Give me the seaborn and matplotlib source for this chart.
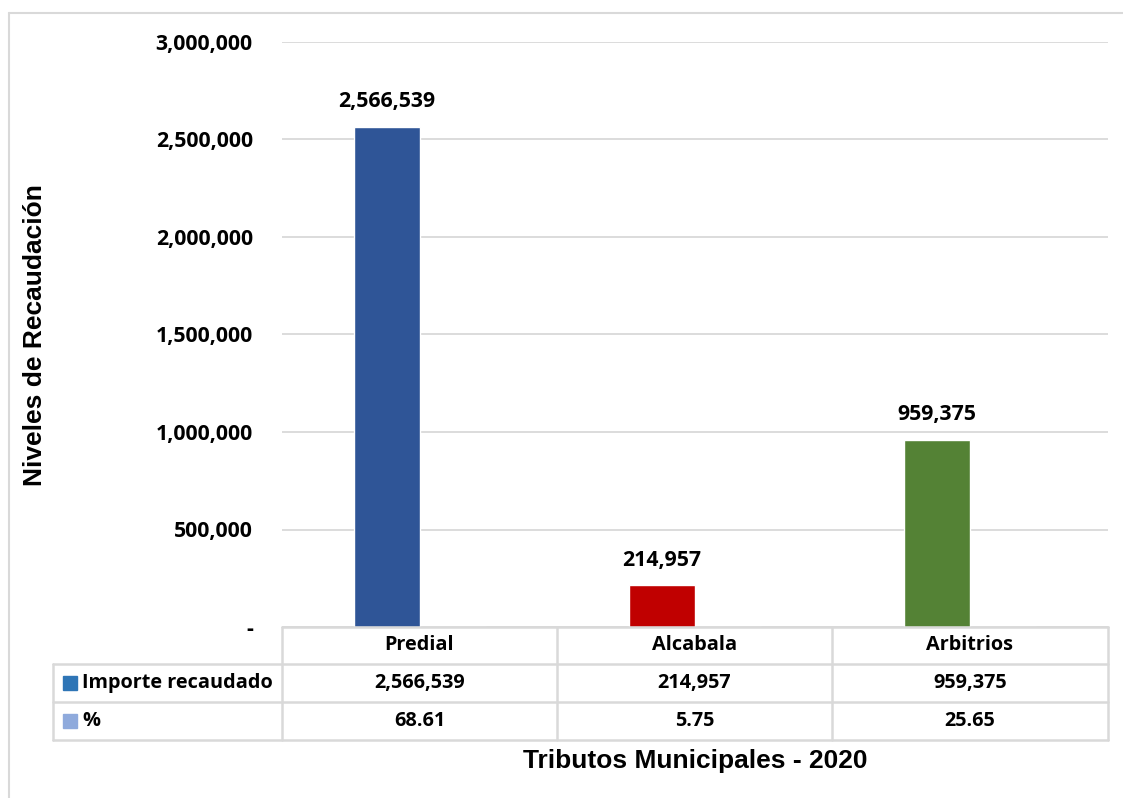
import matplotlib
matplotlib.use("Agg")
import matplotlib.pyplot as plt
import seaborn as sns
import pandas as pd
from matplotlib.patches import Rectangle

categorias = ["Predial", "Alcabala", "Arbitrios"]
importe = [2566539, 214957, 959375]
porcentaje = [68.61, 5.75, 25.65]
colores = ["#2F5597", "#C00000", "#548235"]
filas = ["Importe recaudado", "%"]
colores_leyenda = ["#2E75B6", "#8FAADC"]
yticks = [0, 500000, 1000000, 1500000, 2000000, 2500000, 3000000]

# formato largo: la serie "%" se dibuja al lado (casi invisible, como en Excel)
df = pd.DataFrame({
    "Tributo": categorias * 2,
    "Serie": [filas[0]] * 3 + [filas[1]] * 3,
    "Valor": importe + porcentaje,
})

sns.set_style("white")
plt.rcParams["text.color"] = "black"
plt.rcParams["ytick.color"] = "black"
num_font = ["Open Sans", "DejaVu Sans"]
title_font = ["Liberation Sans", "DejaVu Sans"]

W, H = 1123, 798
fig = plt.figure(figsize=(W / 100, H / 100), dpi=100)

x0, x1, y_top, y_zero = 282, 1108, 42, 627
ax = fig.add_axes([x0 / W, 1 - y_zero / H, (x1 - x0) / W, (y_zero - y_top) / H])

sns.barplot(data=df, x="Tributo", y="Valor", hue="Serie", palette=colores_leyenda,
            width=0.48, legend=False, ax=ax, saturation=1)
# colores por punto en la serie principal
for patch, c in zip(ax.containers[0], colores):
    patch.set_facecolor(c)

ax.set_ylim(0, 3000000)
ax.set_xlim(-0.5, 2.5)
ax.set_yticks(yticks)
ax.set_yticklabels(["-" if v == 0 else f"{v:,}" for v in yticks],
                   fontfamily=num_font, fontweight="bold", fontsize=15.3,
                   color="black")
ax.tick_params(axis="y", length=0, pad=21)
ax.set_xticks([])
ax.set_xlabel("")
ax.set_ylabel("")
ax.yaxis.grid(True, color="#D9D9D9", linewidth=1.3)
ax.set_axisbelow(True)
for s in ax.spines.values():
    s.set_visible(False)

for patch, v in zip(ax.containers[0], importe):
    cx = patch.get_x() + patch.get_width() / 2
    ax.annotate(f"{v:,}", (cx, v), xytext=(0, 18), textcoords="offset points",
                ha="center", va="center", fontfamily=num_font,
                fontweight="bold", fontsize=15.3, color="black")

# tabla de datos
def fx(px):
    return px / W

def fy(py):
    return 1 - py / H

grid_c = "#D9D9D9"
lw = 1.8
col_edges = [282, 557, 832, 1108]
row_edges = [627, 664, 702, 740]
left_edge = 53

def hline(xa, xb, y):
    fig.add_artist(plt.Line2D([fx(xa), fx(xb)], [fy(y), fy(y)], color=grid_c, lw=lw))

def vline(x, ya, yb):
    fig.add_artist(plt.Line2D([fx(x), fx(x)], [fy(ya), fy(yb)], color=grid_c, lw=lw))

hline(col_edges[0], col_edges[-1], row_edges[0])
for y in row_edges[1:]:
    hline(left_edge, col_edges[-1], y)
vline(col_edges[0], row_edges[0], row_edges[-1])
for x in col_edges[1:]:
    vline(x, row_edges[0], row_edges[-1])
vline(left_edge, row_edges[1], row_edges[-1])

txt_kw = dict(fontfamily=num_font, fontweight="bold", fontsize=14.3,
              ha="center", va="center", color="black")
for j, cat in enumerate(categorias):
    cx = (col_edges[j] + col_edges[j + 1]) / 2
    fig.text(fx(cx), fy((row_edges[0] + row_edges[1]) / 2), cat, **txt_kw)
    fig.text(fx(cx), fy((row_edges[1] + row_edges[2]) / 2), f"{importe[j]:,}", **txt_kw)
    fig.text(fx(cx), fy((row_edges[2] + row_edges[3]) / 2), f"{porcentaje[j]:.2f}", **txt_kw)

for k, (nombre, c) in enumerate(zip(filas, colores_leyenda)):
    cy = (row_edges[k + 1] + row_edges[k + 2]) / 2
    fig.add_artist(Rectangle((fx(63), fy(cy + 7)), 14 / W, 14 / H,
                             transform=fig.transFigure, color=c))
    fig.text(fx(82), fy(cy), nombre, fontfamily=num_font, fontweight="bold",
             fontsize=14.3, ha="left", va="center", color="black")

fig.text(fx(695), fy(761), "Tributos Municipales - 2020", fontfamily=title_font,
         fontweight="bold", fontsize=19, ha="center", va="center", color="black")
fig.text(fx(35), fy(335), "Niveles de Recaudación", fontfamily=title_font,
         fontweight="bold", fontsize=19, ha="center", va="center", rotation=90,
         color="black")

# borde del área del gráfico (solo arriba e izquierda visibles)
fig.add_artist(plt.Line2D([fx(9), 1], [fy(13), fy(13)], color="#D9D9D9", lw=1.5))
fig.add_artist(plt.Line2D([fx(9), fx(9)], [0, fy(13)], color="#D9D9D9", lw=1.5))

fig.savefig("out.png", dpi=100)
